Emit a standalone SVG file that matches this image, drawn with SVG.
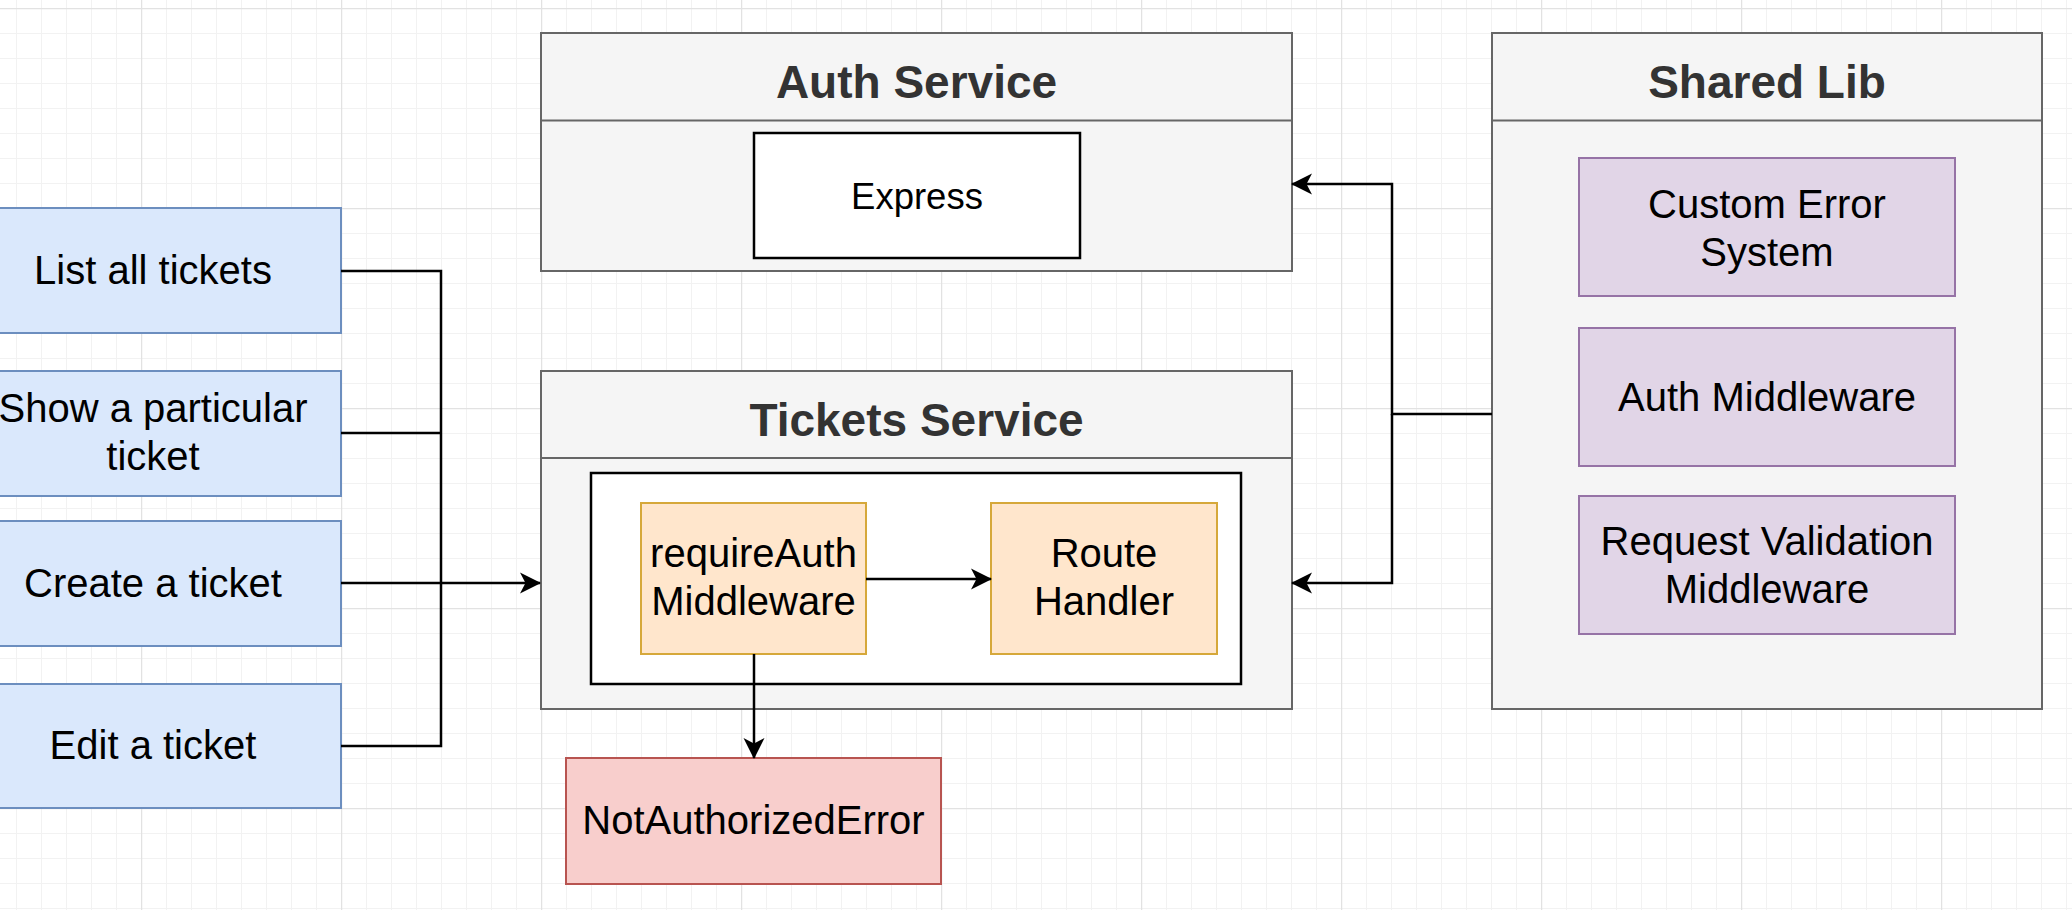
<svg xmlns="http://www.w3.org/2000/svg" width="2072" height="910" viewBox="0 0 2072 910">
<style>
text{font-family:"Liberation Sans",Arial,Helvetica,sans-serif;text-anchor:middle;fill:#000}
.t{font-size:40px}
.ts{font-size:36.5px}
.h{font-size:46px;font-weight:bold;fill:#333}
.cont{fill:#f5f5f5;stroke:#666;stroke-width:2}
.blue{fill:#dae8fc;stroke:#6c8ebf;stroke-width:2}
.purple{fill:#e1d5e7;stroke:#9673a6;stroke-width:2}
.orange{fill:#ffe6cc;stroke:#d6a83a;stroke-width:2}
.red{fill:#f8cecc;stroke:#b85450;stroke-width:2}
.white{fill:#fff;stroke:#000;stroke-width:2.5}
.edge{fill:none;stroke:#000;stroke-width:2.5}
.arr{marker-end:url(#ah)}
</style>
<defs>
<pattern id="gmin" patternUnits="userSpaceOnUse" x="16" y="8" width="25" height="25">
<path d="M0.5 0V25M0 0.5H25" stroke="#f2f2f2" stroke-width="1" fill="none"/>
</pattern>
<pattern id="gmaj" patternUnits="userSpaceOnUse" x="141" y="8" width="200" height="200">
<path d="M0.5 0V200M0 0.5H200" stroke="#e2e2e2" stroke-width="1.5" fill="none"/>
</pattern>
<marker id="ah" markerUnits="userSpaceOnUse" viewBox="0 0 22 22" markerWidth="22" markerHeight="22" refX="21" refY="11" orient="auto">
<path d="M22 11L1 0.5L6.5 11L1 21.5Z" fill="#000"/>
</marker>
</defs>
<rect width="2072" height="910" fill="#fff"/>
<rect width="2072" height="910" fill="url(#gmin)"/>
<rect width="2072" height="910" fill="url(#gmaj)"/>

<g id="list-all-tickets">
<rect class="blue" x="-35" y="208" width="376" height="125"/>
<text class="t" x="153" y="284">List all tickets</text>
</g>
<g id="show-ticket">
<rect class="blue" x="-35" y="371" width="376" height="125"/>
<text class="t" x="153" y="422">Show a particular</text>
<text class="t" x="153" y="470">ticket</text>
</g>
<g id="create-ticket">
<rect class="blue" x="-35" y="521" width="376" height="125"/>
<text class="t" x="153" y="597">Create a ticket</text>
</g>
<g id="edit-ticket">
<rect class="blue" x="-35" y="684" width="376" height="124"/>
<text class="t" x="153" y="759">Edit a ticket</text>
</g>

<g id="auth-service">
<rect class="cont" x="541" y="33" width="751" height="238"/>
<line x1="541" y1="120.5" x2="1292" y2="120.5" stroke="#666" stroke-width="2"/>
<text class="h" x="916.5" y="98">Auth Service</text>
</g>
<g id="express">
<rect class="white" x="754" y="133" width="326" height="125"/>
<text class="ts" x="917" y="209">Express</text>
</g>

<g id="tickets-service">
<rect class="cont" x="541" y="371" width="751" height="338"/>
<line x1="541" y1="458" x2="1292" y2="458" stroke="#666" stroke-width="2"/>
<text class="h" x="916.5" y="436">Tickets Service</text>
<rect class="white" x="591" y="473" width="650" height="211" stroke-width="3"/>
</g>
<g id="require-auth">
<rect class="orange" x="641" y="503" width="225" height="151"/>
<text class="t" x="753.5" y="567">requireAuth</text>
<text class="t" x="753.5" y="615">Middleware</text>
</g>
<g id="route-handler">
<rect class="orange" x="991" y="503" width="226" height="151"/>
<text class="t" x="1104" y="567">Route</text>
<text class="t" x="1104" y="615">Handler</text>
</g>
<g id="not-authorized-error">
<rect class="red" x="566" y="758" width="375" height="126"/>
<text class="t" x="753.5" y="834">NotAuthorizedError</text>
</g>

<g id="shared-lib">
<rect class="cont" x="1492" y="33" width="550" height="676"/>
<line x1="1492" y1="120.5" x2="2042" y2="120.5" stroke="#666" stroke-width="2"/>
<text class="h" x="1767" y="98">Shared Lib</text>
</g>
<g id="custom-error-system">
<rect class="purple" x="1579" y="158" width="376" height="138"/>
<text class="t" x="1767" y="218">Custom Error</text>
<text class="t" x="1767" y="266">System</text>
</g>
<g id="auth-middleware">
<rect class="purple" x="1579" y="328" width="376" height="138"/>
<text class="t" x="1767" y="411">Auth Middleware</text>
</g>
<g id="request-validation-middleware">
<rect class="purple" x="1579" y="496" width="376" height="138"/>
<text class="t" x="1767" y="555">Request Validation</text>
<text class="t" x="1767" y="603">Middleware</text>
</g>

<g id="connectors">
<path class="edge" d="M341 271H441V583"/>
<path class="edge" d="M341 433H441"/>
<path class="edge arr" d="M341 583H540"/>
<path class="edge" d="M341 746H441V583"/>
<path class="edge arr" d="M1492 414H1392V184H1292"/>
<path class="edge arr" d="M1392 414V583H1292"/>
<path class="edge arr" d="M866 579H991"/>
<path class="edge arr" d="M754 654V758"/>
</g>
</svg>
